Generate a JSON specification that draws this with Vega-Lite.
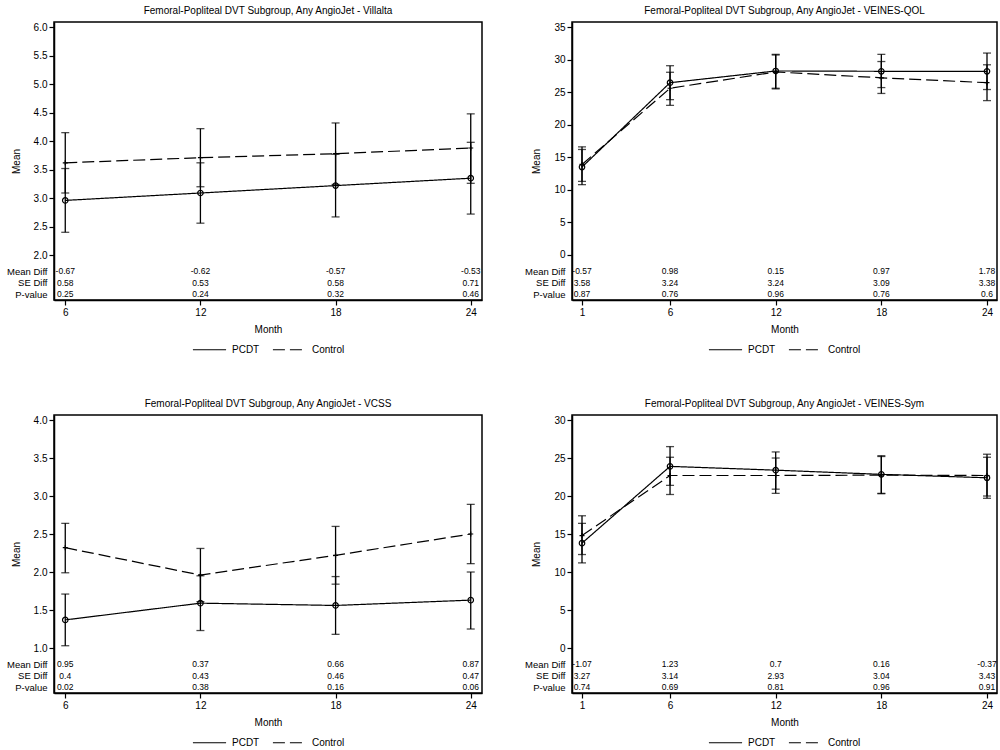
{
  "$schema": "https://vega.github.io/schema/vega-lite/v6.json",
  "background": "white",
  "padding": 5,
  "datasets": {
    "m1": [
      {"month": 6, "group": "PCDT", "mean": 2.96, "lo": 2.40, "hi": 3.52},
      {"month": 12, "group": "PCDT", "mean": 3.09, "lo": 2.56, "hi": 3.62},
      {"month": 18, "group": "PCDT", "mean": 3.22, "lo": 2.67, "hi": 3.77},
      {"month": 24, "group": "PCDT", "mean": 3.35, "lo": 2.72, "hi": 3.98},
      {"month": 6, "group": "Control", "mean": 3.62, "lo": 3.09, "hi": 4.15},
      {"month": 12, "group": "Control", "mean": 3.71, "lo": 3.20, "hi": 4.22},
      {"month": 18, "group": "Control", "mean": 3.78, "lo": 3.24, "hi": 4.32},
      {"month": 24, "group": "Control", "mean": 3.88, "lo": 3.26, "hi": 4.48}
    ],
    "s1": [
      {"month": 6, "stat": "Mean Diff", "value": "-0.67"},
      {"month": 12, "stat": "Mean Diff", "value": "-0.62"},
      {"month": 18, "stat": "Mean Diff", "value": "-0.57"},
      {"month": 24, "stat": "Mean Diff", "value": "-0.53"},
      {"month": 6, "stat": "SE Diff", "value": "0.58"},
      {"month": 12, "stat": "SE Diff", "value": "0.53"},
      {"month": 18, "stat": "SE Diff", "value": "0.58"},
      {"month": 24, "stat": "SE Diff", "value": "0.71"},
      {"month": 6, "stat": "P-value", "value": "0.25"},
      {"month": 12, "stat": "P-value", "value": "0.24"},
      {"month": 18, "stat": "P-value", "value": "0.32"},
      {"month": 24, "stat": "P-value", "value": "0.46"}
    ],
    "m2": [
      {"month": 1, "group": "PCDT", "mean": 13.5, "lo": 10.8, "hi": 16.2},
      {"month": 6, "group": "PCDT", "mean": 26.45, "lo": 23.85, "hi": 29.06},
      {"month": 12, "group": "PCDT", "mean": 28.25, "lo": 25.6, "hi": 30.8},
      {"month": 18, "group": "PCDT", "mean": 28.2, "lo": 25.7, "hi": 30.8},
      {"month": 24, "group": "PCDT", "mean": 28.2, "lo": 25.4, "hi": 31.0},
      {"month": 1, "group": "Control", "mean": 13.9, "lo": 11.3, "hi": 16.6},
      {"month": 6, "group": "Control", "mean": 25.6, "lo": 22.97, "hi": 28.05},
      {"month": 12, "group": "Control", "mean": 28.1, "lo": 25.5, "hi": 30.7},
      {"month": 18, "group": "Control", "mean": 27.2, "lo": 24.8, "hi": 29.7},
      {"month": 24, "group": "Control", "mean": 26.45, "lo": 23.7, "hi": 29.2}
    ],
    "s2": [
      {"month": 1, "stat": "Mean Diff", "value": "-0.57"},
      {"month": 6, "stat": "Mean Diff", "value": "0.98"},
      {"month": 12, "stat": "Mean Diff", "value": "0.15"},
      {"month": 18, "stat": "Mean Diff", "value": "0.97"},
      {"month": 24, "stat": "Mean Diff", "value": "1.78"},
      {"month": 1, "stat": "SE Diff", "value": "3.58"},
      {"month": 6, "stat": "SE Diff", "value": "3.24"},
      {"month": 12, "stat": "SE Diff", "value": "3.24"},
      {"month": 18, "stat": "SE Diff", "value": "3.09"},
      {"month": 24, "stat": "SE Diff", "value": "3.38"},
      {"month": 1, "stat": "P-value", "value": "0.87"},
      {"month": 6, "stat": "P-value", "value": "0.76"},
      {"month": 12, "stat": "P-value", "value": "0.96"},
      {"month": 18, "stat": "P-value", "value": "0.76"},
      {"month": 24, "stat": "P-value", "value": "0.6"}
    ],
    "m3": [
      {"month": 6, "group": "PCDT", "mean": 1.37, "lo": 1.03, "hi": 1.71},
      {"month": 12, "group": "PCDT", "mean": 1.59, "lo": 1.23, "hi": 1.95},
      {"month": 18, "group": "PCDT", "mean": 1.56, "lo": 1.18, "hi": 1.94},
      {"month": 24, "group": "PCDT", "mean": 1.63, "lo": 1.25, "hi": 2.00},
      {"month": 6, "group": "Control", "mean": 2.32, "lo": 1.99, "hi": 2.64},
      {"month": 12, "group": "Control", "mean": 1.96, "lo": 1.61, "hi": 2.31},
      {"month": 18, "group": "Control", "mean": 2.22, "lo": 1.84, "hi": 2.60},
      {"month": 24, "group": "Control", "mean": 2.50, "lo": 2.11, "hi": 2.89}
    ],
    "s3": [
      {"month": 6, "stat": "Mean Diff", "value": "0.95"},
      {"month": 12, "stat": "Mean Diff", "value": "0.37"},
      {"month": 18, "stat": "Mean Diff", "value": "0.66"},
      {"month": 24, "stat": "Mean Diff", "value": "0.87"},
      {"month": 6, "stat": "SE Diff", "value": "0.4"},
      {"month": 12, "stat": "SE Diff", "value": "0.43"},
      {"month": 18, "stat": "SE Diff", "value": "0.46"},
      {"month": 24, "stat": "SE Diff", "value": "0.47"},
      {"month": 6, "stat": "P-value", "value": "0.02"},
      {"month": 12, "stat": "P-value", "value": "0.38"},
      {"month": 18, "stat": "P-value", "value": "0.16"},
      {"month": 24, "stat": "P-value", "value": "0.06"}
    ],
    "m4": [
      {"month": 1, "group": "PCDT", "mean": 13.8, "lo": 11.2, "hi": 16.4},
      {"month": 6, "group": "PCDT", "mean": 23.9, "lo": 21.4, "hi": 26.5},
      {"month": 12, "group": "PCDT", "mean": 23.4, "lo": 20.9, "hi": 25.8},
      {"month": 18, "group": "PCDT", "mean": 22.85, "lo": 20.35, "hi": 25.3},
      {"month": 24, "group": "PCDT", "mean": 22.4, "lo": 19.7, "hi": 25.1},
      {"month": 1, "group": "Control", "mean": 14.8, "lo": 12.3, "hi": 17.4},
      {"month": 6, "group": "Control", "mean": 22.7, "lo": 20.2, "hi": 25.1},
      {"month": 12, "group": "Control", "mean": 22.7, "lo": 20.35, "hi": 25.0},
      {"month": 18, "group": "Control", "mean": 22.75, "lo": 20.3, "hi": 25.2},
      {"month": 24, "group": "Control", "mean": 22.7, "lo": 20.0, "hi": 25.5}
    ],
    "s4": [
      {"month": 1, "stat": "Mean Diff", "value": "-1.07"},
      {"month": 6, "stat": "Mean Diff", "value": "1.23"},
      {"month": 12, "stat": "Mean Diff", "value": "0.7"},
      {"month": 18, "stat": "Mean Diff", "value": "0.16"},
      {"month": 24, "stat": "Mean Diff", "value": "-0.37"},
      {"month": 1, "stat": "SE Diff", "value": "3.27"},
      {"month": 6, "stat": "SE Diff", "value": "3.14"},
      {"month": 12, "stat": "SE Diff", "value": "2.93"},
      {"month": 18, "stat": "SE Diff", "value": "3.04"},
      {"month": 24, "stat": "SE Diff", "value": "3.43"},
      {"month": 1, "stat": "P-value", "value": "0.74"},
      {"month": 6, "stat": "P-value", "value": "0.69"},
      {"month": 12, "stat": "P-value", "value": "0.81"},
      {"month": 18, "stat": "P-value", "value": "0.96"},
      {"month": 24, "stat": "P-value", "value": "0.91"}
    ]
  },
  "columns": 2,
  "spacing": {"row": 42, "column": 40},
  "concat": [
    {
      "width": 428, "height": 278,
      "title": {"text": "Femoral-Popliteal DVT Subgroup, Any AngioJet - Villalta"},
      "encoding": {"x": {"field": "month", "type": "quantitative", "title": "Month", "scale": {"domain": [5.5, 24.5], "nice": false, "zero": false}, "axis": {"values": [6, 12, 18, 24], "labelFlush": false}}},
      "layer": [
        {
          "data": {"name": "m1"},
          "layer": [
            {"mark": {"type": "rule", "color": "black", "strokeWidth": 1.3}, "encoding": {"y": {"field": "lo", "type": "quantitative", "title": "Mean", "scale": {"domain": [1.211, 6.093], "nice": false, "zero": false}, "axis": {"orient": "left", "values": [2, 2.5, 3, 3.5, 4, 4.5, 5, 5.5, 6], "format": ".1f"}}, "y2": {"field": "hi"}}},
            {"mark": {"type": "tick", "orient": "horizontal", "color": "black", "size": 8, "thickness": 1.3}, "encoding": {"y": {"field": "lo", "type": "quantitative", "title": "Mean", "scale": {"domain": [1.211, 6.093], "nice": false, "zero": false}, "axis": {"orient": "left", "values": [2, 2.5, 3, 3.5, 4, 4.5, 5, 5.5, 6], "format": ".1f"}}}},
            {"mark": {"type": "tick", "orient": "horizontal", "color": "black", "size": 8, "thickness": 1.3}, "encoding": {"y": {"field": "hi", "type": "quantitative", "title": "Mean", "scale": {"domain": [1.211, 6.093], "nice": false, "zero": false}, "axis": {"orient": "left", "values": [2, 2.5, 3, 3.5, 4, 4.5, 5, 5.5, 6], "format": ".1f"}}}},
            {"mark": {"type": "line", "color": "black", "strokeWidth": 1.2}, "encoding": {"y": {"field": "mean", "type": "quantitative", "title": "Mean", "scale": {"domain": [1.211, 6.093], "nice": false, "zero": false}, "axis": {"orient": "left", "values": [2, 2.5, 3, 3.5, 4, 4.5, 5, 5.5, 6], "format": ".1f"}}, "strokeDash": {"field": "group", "type": "nominal", "scale": {"domain": ["PCDT", "Control"], "range": [[1, 0], [12, 5]]}, "legend": {"title": null}}}},
            {"transform": [{"filter": "datum.group == 'PCDT'"}], "mark": {"type": "point", "shape": "circle", "filled": false, "color": "black", "size": 30, "strokeWidth": 1.2, "opacity": 1}, "encoding": {"y": {"field": "mean", "type": "quantitative", "title": "Mean", "scale": {"domain": [1.211, 6.093], "nice": false, "zero": false}, "axis": {"orient": "left", "values": [2, 2.5, 3, 3.5, 4, 4.5, 5, 5.5, 6], "format": ".1f"}}}},
            {"transform": [{"filter": "datum.group == 'Control'"}], "mark": {"type": "point", "shape": "M-1,0H1M0,-1V1", "filled": false, "color": "black", "size": 25, "strokeWidth": 1.2, "opacity": 1}, "encoding": {"y": {"field": "mean", "type": "quantitative", "title": "Mean", "scale": {"domain": [1.211, 6.093], "nice": false, "zero": false}, "axis": {"orient": "left", "values": [2, 2.5, 3, 3.5, 4, 4.5, 5, 5.5, 6], "format": ".1f"}}}}
          ]
        },
        {
          "data": {"name": "s1"},
          "mark": {"type": "text", "fontSize": 8.5, "align": "center", "baseline": "middle", "color": "black"},
          "encoding": {"text": {"field": "value"}, "y": {"field": "stat", "type": "nominal", "scale": {"type": "point", "domain": ["Mean Diff", "SE Diff", "P-value"], "range": [249, 272], "padding": 0}, "axis": {"orient": "left", "title": null, "domain": false, "ticks": false, "labelFontSize": 9.5, "labelPadding": 7}}}
        }
      ],
      "resolve": {"scale": {"y": "independent"}, "axis": {"y": "independent"}}
    },
    {
      "width": 425, "height": 278,
      "title": {"text": "Femoral-Popliteal DVT Subgroup, Any AngioJet - VEINES-QOL"},
      "encoding": {"x": {"field": "month", "type": "quantitative", "title": "Month", "scale": {"domain": [0.432, 24.568], "nice": false, "zero": false}, "axis": {"values": [1, 6, 12, 18, 24], "labelFlush": false}}},
      "layer": [
        {
          "data": {"name": "m2"},
          "layer": [
            {"mark": {"type": "rule", "color": "black", "strokeWidth": 1.3}, "encoding": {"y": {"field": "lo", "type": "quantitative", "title": "Mean", "scale": {"domain": [-6.908, 35.768], "nice": false, "zero": false}, "axis": {"orient": "left", "values": [0, 5, 10, 15, 20, 25, 30, 35]}}, "y2": {"field": "hi"}}},
            {"mark": {"type": "tick", "orient": "horizontal", "color": "black", "size": 8, "thickness": 1.3}, "encoding": {"y": {"field": "lo", "type": "quantitative", "title": "Mean", "scale": {"domain": [-6.908, 35.768], "nice": false, "zero": false}, "axis": {"orient": "left", "values": [0, 5, 10, 15, 20, 25, 30, 35]}}}},
            {"mark": {"type": "tick", "orient": "horizontal", "color": "black", "size": 8, "thickness": 1.3}, "encoding": {"y": {"field": "hi", "type": "quantitative", "title": "Mean", "scale": {"domain": [-6.908, 35.768], "nice": false, "zero": false}, "axis": {"orient": "left", "values": [0, 5, 10, 15, 20, 25, 30, 35]}}}},
            {"mark": {"type": "line", "color": "black", "strokeWidth": 1.2}, "encoding": {"y": {"field": "mean", "type": "quantitative", "title": "Mean", "scale": {"domain": [-6.908, 35.768], "nice": false, "zero": false}, "axis": {"orient": "left", "values": [0, 5, 10, 15, 20, 25, 30, 35]}}, "strokeDash": {"field": "group", "type": "nominal", "scale": {"domain": ["PCDT", "Control"], "range": [[1, 0], [12, 5]]}, "legend": {"title": null}}}},
            {"transform": [{"filter": "datum.group == 'PCDT'"}], "mark": {"type": "point", "shape": "circle", "filled": false, "color": "black", "size": 30, "strokeWidth": 1.2, "opacity": 1}, "encoding": {"y": {"field": "mean", "type": "quantitative", "title": "Mean", "scale": {"domain": [-6.908, 35.768], "nice": false, "zero": false}, "axis": {"orient": "left", "values": [0, 5, 10, 15, 20, 25, 30, 35]}}}},
            {"transform": [{"filter": "datum.group == 'Control'"}], "mark": {"type": "point", "shape": "M-1,0H1M0,-1V1", "filled": false, "color": "black", "size": 25, "strokeWidth": 1.2, "opacity": 1}, "encoding": {"y": {"field": "mean", "type": "quantitative", "title": "Mean", "scale": {"domain": [-6.908, 35.768], "nice": false, "zero": false}, "axis": {"orient": "left", "values": [0, 5, 10, 15, 20, 25, 30, 35]}}}}
          ]
        },
        {
          "data": {"name": "s2"},
          "mark": {"type": "text", "fontSize": 8.5, "align": "center", "baseline": "middle", "color": "black"},
          "encoding": {"text": {"field": "value"}, "y": {"field": "stat", "type": "nominal", "scale": {"type": "point", "domain": ["Mean Diff", "SE Diff", "P-value"], "range": [249, 272], "padding": 0}, "axis": {"orient": "left", "title": null, "domain": false, "ticks": false, "labelFontSize": 9.5, "labelPadding": 7}}}
        }
      ],
      "resolve": {"scale": {"y": "independent"}, "axis": {"y": "independent"}}
    },
    {
      "width": 428, "height": 278,
      "title": {"text": "Femoral-Popliteal DVT Subgroup, Any AngioJet - VCSS"},
      "encoding": {"x": {"field": "month", "type": "quantitative", "title": "Month", "scale": {"domain": [5.5, 24.5], "nice": false, "zero": false}, "axis": {"values": [6, 12, 18, 24], "labelFlush": false}}},
      "layer": [
        {
          "data": {"name": "m3"},
          "layer": [
            {"mark": {"type": "rule", "color": "black", "strokeWidth": 1.3}, "encoding": {"y": {"field": "lo", "type": "quantitative", "title": "Mean", "scale": {"domain": [0.408, 4.066], "nice": false, "zero": false}, "axis": {"orient": "left", "values": [1, 1.5, 2, 2.5, 3, 3.5, 4], "format": ".1f"}}, "y2": {"field": "hi"}}},
            {"mark": {"type": "tick", "orient": "horizontal", "color": "black", "size": 8, "thickness": 1.3}, "encoding": {"y": {"field": "lo", "type": "quantitative", "title": "Mean", "scale": {"domain": [0.408, 4.066], "nice": false, "zero": false}, "axis": {"orient": "left", "values": [1, 1.5, 2, 2.5, 3, 3.5, 4], "format": ".1f"}}}},
            {"mark": {"type": "tick", "orient": "horizontal", "color": "black", "size": 8, "thickness": 1.3}, "encoding": {"y": {"field": "hi", "type": "quantitative", "title": "Mean", "scale": {"domain": [0.408, 4.066], "nice": false, "zero": false}, "axis": {"orient": "left", "values": [1, 1.5, 2, 2.5, 3, 3.5, 4], "format": ".1f"}}}},
            {"mark": {"type": "line", "color": "black", "strokeWidth": 1.2}, "encoding": {"y": {"field": "mean", "type": "quantitative", "title": "Mean", "scale": {"domain": [0.408, 4.066], "nice": false, "zero": false}, "axis": {"orient": "left", "values": [1, 1.5, 2, 2.5, 3, 3.5, 4], "format": ".1f"}}, "strokeDash": {"field": "group", "type": "nominal", "scale": {"domain": ["PCDT", "Control"], "range": [[1, 0], [12, 5]]}, "legend": {"title": null}}}},
            {"transform": [{"filter": "datum.group == 'PCDT'"}], "mark": {"type": "point", "shape": "circle", "filled": false, "color": "black", "size": 30, "strokeWidth": 1.2, "opacity": 1}, "encoding": {"y": {"field": "mean", "type": "quantitative", "title": "Mean", "scale": {"domain": [0.408, 4.066], "nice": false, "zero": false}, "axis": {"orient": "left", "values": [1, 1.5, 2, 2.5, 3, 3.5, 4], "format": ".1f"}}}},
            {"transform": [{"filter": "datum.group == 'Control'"}], "mark": {"type": "point", "shape": "M-1,0H1M0,-1V1", "filled": false, "color": "black", "size": 25, "strokeWidth": 1.2, "opacity": 1}, "encoding": {"y": {"field": "mean", "type": "quantitative", "title": "Mean", "scale": {"domain": [0.408, 4.066], "nice": false, "zero": false}, "axis": {"orient": "left", "values": [1, 1.5, 2, 2.5, 3, 3.5, 4], "format": ".1f"}}}}
          ]
        },
        {
          "data": {"name": "s3"},
          "mark": {"type": "text", "fontSize": 8.5, "align": "center", "baseline": "middle", "color": "black"},
          "encoding": {"text": {"field": "value"}, "y": {"field": "stat", "type": "nominal", "scale": {"type": "point", "domain": ["Mean Diff", "SE Diff", "P-value"], "range": [249, 272], "padding": 0}, "axis": {"orient": "left", "title": null, "domain": false, "ticks": false, "labelFontSize": 9.5, "labelPadding": 7}}}
        }
      ],
      "resolve": {"scale": {"y": "independent"}, "axis": {"y": "independent"}}
    },
    {
      "width": 425, "height": 278,
      "title": {"text": "Femoral-Popliteal DVT Subgroup, Any AngioJet - VEINES-Sym"},
      "encoding": {"x": {"field": "month", "type": "quantitative", "title": "Month", "scale": {"domain": [0.432, 24.568], "nice": false, "zero": false}, "axis": {"values": [1, 6, 12, 18, 24], "labelFlush": false}}},
      "layer": [
        {
          "data": {"name": "m4"},
          "layer": [
            {"mark": {"type": "rule", "color": "black", "strokeWidth": 1.3}, "encoding": {"y": {"field": "lo", "type": "quantitative", "title": "Mean", "scale": {"domain": [-5.92, 30.66], "nice": false, "zero": false}, "axis": {"orient": "left", "values": [0, 5, 10, 15, 20, 25, 30]}}, "y2": {"field": "hi"}}},
            {"mark": {"type": "tick", "orient": "horizontal", "color": "black", "size": 8, "thickness": 1.3}, "encoding": {"y": {"field": "lo", "type": "quantitative", "title": "Mean", "scale": {"domain": [-5.92, 30.66], "nice": false, "zero": false}, "axis": {"orient": "left", "values": [0, 5, 10, 15, 20, 25, 30]}}}},
            {"mark": {"type": "tick", "orient": "horizontal", "color": "black", "size": 8, "thickness": 1.3}, "encoding": {"y": {"field": "hi", "type": "quantitative", "title": "Mean", "scale": {"domain": [-5.92, 30.66], "nice": false, "zero": false}, "axis": {"orient": "left", "values": [0, 5, 10, 15, 20, 25, 30]}}}},
            {"mark": {"type": "line", "color": "black", "strokeWidth": 1.2}, "encoding": {"y": {"field": "mean", "type": "quantitative", "title": "Mean", "scale": {"domain": [-5.92, 30.66], "nice": false, "zero": false}, "axis": {"orient": "left", "values": [0, 5, 10, 15, 20, 25, 30]}}, "strokeDash": {"field": "group", "type": "nominal", "scale": {"domain": ["PCDT", "Control"], "range": [[1, 0], [12, 5]]}, "legend": {"title": null}}}},
            {"transform": [{"filter": "datum.group == 'PCDT'"}], "mark": {"type": "point", "shape": "circle", "filled": false, "color": "black", "size": 30, "strokeWidth": 1.2, "opacity": 1}, "encoding": {"y": {"field": "mean", "type": "quantitative", "title": "Mean", "scale": {"domain": [-5.92, 30.66], "nice": false, "zero": false}, "axis": {"orient": "left", "values": [0, 5, 10, 15, 20, 25, 30]}}}},
            {"transform": [{"filter": "datum.group == 'Control'"}], "mark": {"type": "point", "shape": "M-1,0H1M0,-1V1", "filled": false, "color": "black", "size": 25, "strokeWidth": 1.2, "opacity": 1}, "encoding": {"y": {"field": "mean", "type": "quantitative", "title": "Mean", "scale": {"domain": [-5.92, 30.66], "nice": false, "zero": false}, "axis": {"orient": "left", "values": [0, 5, 10, 15, 20, 25, 30]}}}}
          ]
        },
        {
          "data": {"name": "s4"},
          "mark": {"type": "text", "fontSize": 8.5, "align": "center", "baseline": "middle", "color": "black"},
          "encoding": {"text": {"field": "value"}, "y": {"field": "stat", "type": "nominal", "scale": {"type": "point", "domain": ["Mean Diff", "SE Diff", "P-value"], "range": [249, 272], "padding": 0}, "axis": {"orient": "left", "title": null, "domain": false, "ticks": false, "labelFontSize": 9.5, "labelPadding": 7}}}
        }
      ],
      "resolve": {"scale": {"y": "independent"}, "axis": {"y": "independent"}}
    }
  ],
  "resolve": {"legend": {"strokeDash": "independent"}, "scale": {"x": "independent", "y": "independent"}, "axis": {"x": "independent", "y": "independent"}},
  "config": {
    "font": "Liberation Sans",
    "view": {"stroke": "black", "strokeWidth": 1.5},
    "title": {"font": "Liberation Sans", "fontSize": 10, "fontWeight": "normal", "color": "black", "frame": "group", "offset": 6, "anchor": "middle"},
    "axis": {"labelFont": "Liberation Sans", "labelFontSize": 10, "labelColor": "black", "titleFont": "Liberation Sans", "titleFontSize": 10, "titleFontWeight": "normal", "titleColor": "black", "domainColor": "black", "domainWidth": 1.5, "tickColor": "black", "tickWidth": 1.2, "tickSize": 5, "grid": false, "labelPadding": 2, "titlePadding": 7},
    "axisY": {"titlePadding": 12},
    "legend": {"orient": "bottom", "direction": "horizontal", "symbolType": "stroke", "symbolSize": 1100, "symbolStrokeColor": "black", "symbolStrokeWidth": 1.2, "labelFont": "Liberation Sans", "labelFontSize": 10, "labelColor": "black", "offset": -2, "columnPadding": 10, "labelOffset": 5, "layout": {"bottom": {"anchor": "middle"}}}
  }
}
